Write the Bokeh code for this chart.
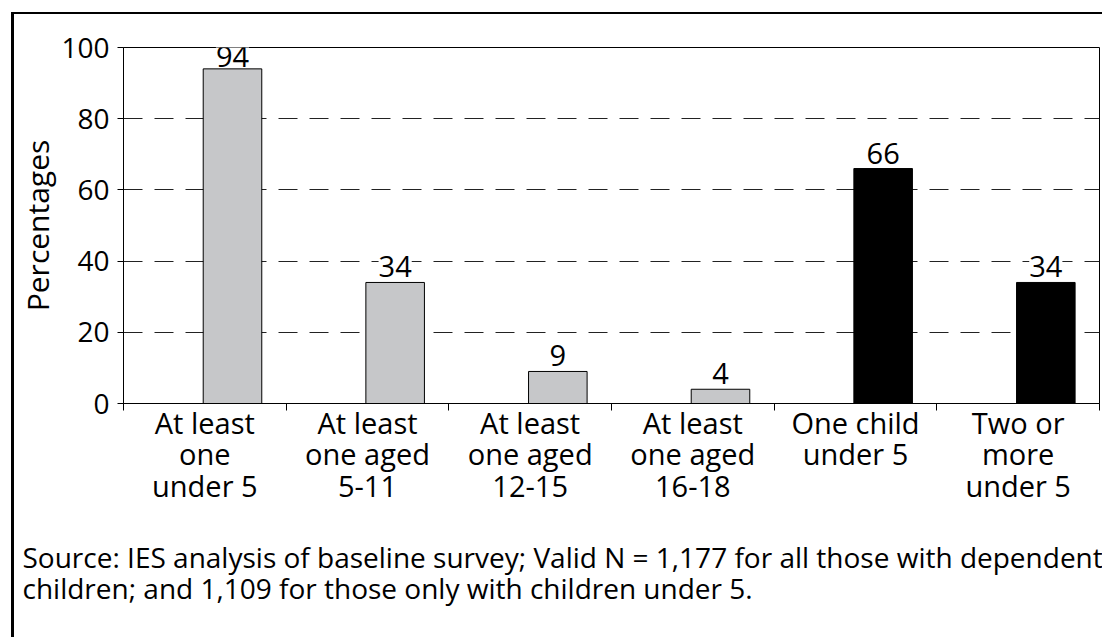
from bokeh.plotting import figure
from bokeh.layouts import column
from bokeh.models import Range1d, FixedTicker, ColumnDataSource, LabelSet, Title
from bokeh.core.properties import value
from bokeh.embed import file_html
from bokeh.resources import INLINE

# ---- data ----
categories = [
    "At least\none\nunder 5",
    "At least\none aged\n5-11",
    "At least\none aged\n12-15",
    "At least\none aged\n16-18",
    "One child\nunder 5",
    "Two or\nmore\nunder 5",
]
percentages = [94, 34, 9, 4, 66, 34]
bar_colors = ["#c6c7c9", "#c6c7c9", "#c6c7c9", "#c6c7c9", "#000000", "#000000"]
y_ticks = [0, 20, 40, 60, 80, 100]
y_label = "Percentages"
source_lines = [
    "Source: IES analysis of baseline survey; Valid N = 1,177 for all those with dependent",
    "children; and 1,109 for those only with children under 5.",
]

# style: pixel lift of each value label above its bar (first one squeezed under the frame)
label_lift = [2, 5, 5, 5, 5, 5]

FONT = "Open Sans"
n = len(categories)
idx = list(range(n))
bar_x = [i + 0.67 for i in idx]
label_pos = [i + 0.5 for i in idx]
boundaries = list(range(n + 1))

src = ColumnDataSource(dict(x=bar_x, top=percentages, color=bar_colors,
                            label=[str(v) for v in percentages], lift=label_lift))

p = figure(width=1088, height=623,
           x_range=Range1d(0, n), y_range=Range1d(0, 100),
           output_backend="svg", toolbar_location=None,
           min_border_left=108, min_border_right=3,
           min_border_top=33, min_border_bottom=234)

p.background_fill_color = "white"
p.border_fill_color = "white"
p.outline_line_color = "black"
p.outline_line_width = 1

p.vbar(x="x", top="top", bottom=0, width=0.36, source=src,
       fill_color="color", line_color="black", line_width=1)

labels = LabelSet(x="x", y="top", text="label", source=src,
                  text_align="center", text_baseline="alphabetic",
                  y_offset="lift", text_font=value(FONT), text_font_size="29px",
                  text_color="black", background_fill_color="white")
p.add_layout(labels)

# grid
p.xgrid.grid_line_color = None
p.ygrid.ticker = FixedTicker(ticks=y_ticks[1:-1])
p.ygrid.grid_line_color = "#222222"
p.ygrid.grid_line_dash = "19 12"
p.ygrid.grid_line_width = 1

# y axis
p.yaxis.ticker = FixedTicker(ticks=y_ticks)
p.yaxis.axis_label = y_label
p.yaxis.axis_label_text_font = FONT
p.yaxis.axis_label_text_font_size = "30px"
p.yaxis.axis_label_text_font_style = "normal"
p.yaxis.axis_label_text_color = "black"
p.yaxis.axis_label_standoff = 0
p.yaxis.major_label_text_font = FONT
p.yaxis.major_label_text_font_size = "28px"
p.yaxis.major_label_text_color = "black"
p.yaxis.major_label_standoff = 8
p.yaxis.major_tick_out = 6
p.yaxis.major_tick_in = 0
p.yaxis.minor_tick_out = 0
p.yaxis.minor_tick_in = 0
p.yaxis.axis_line_color = "black"
p.yaxis.major_tick_line_color = "black"

# x axis
p.xaxis.ticker = FixedTicker(ticks=label_pos, minor_ticks=boundaries)
p.xaxis.major_label_overrides = {float(k): c for k, c in zip(label_pos, categories)}
p.xaxis.major_label_text_font = FONT
p.xaxis.major_label_text_font_size = "29px"
p.xaxis.major_label_text_color = "black"
p.xaxis.major_label_text_line_height = 0.81
p.xaxis.major_label_standoff = -8
p.xaxis.major_tick_out = 0
p.xaxis.major_tick_in = 0
p.xaxis.minor_tick_out = 7
p.xaxis.minor_tick_in = 0
p.xaxis.minor_tick_line_color = "black"
p.xaxis.axis_line_color = "black"

# source note below the chart
p.add_layout(Title(text="\n".join(source_lines), align="left", offset=-101,
                   standoff=56, text_font=FONT, text_font_size="28px",
                   text_line_height=0.84,
                   text_font_style="normal", text_color="black"), "below")

layout = column(p, margin=(12, 0, 0, 11),
                styles={"border-left": "3px solid black",
                        "border-top": "2px solid black"})

open("out.html", "w").write(file_html(layout, INLINE))
